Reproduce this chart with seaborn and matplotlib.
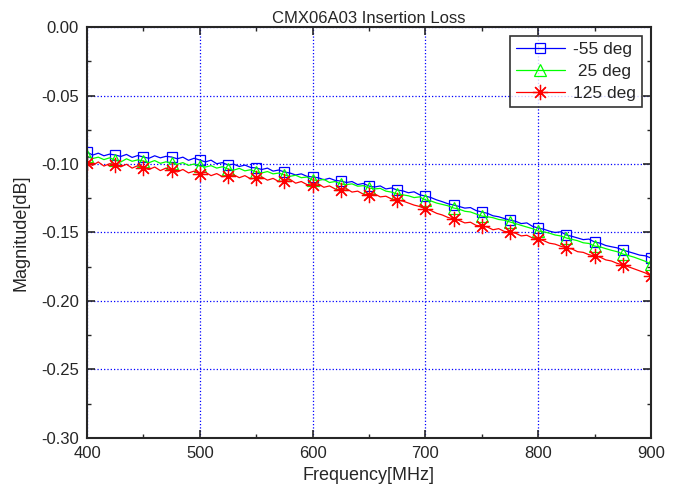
import numpy as np
import pandas as pd
import matplotlib
matplotlib.use("Agg")
import matplotlib.pyplot as plt
from matplotlib.ticker import MultipleLocator, FormatStrFormatter
import seaborn as sns

freq = np.arange(400, 901, 5)

m55 = [-0.0912, -0.0935, -0.0921, -0.0940, -0.0928, -0.0934,
       -0.0945, -0.0930, -0.0952, -0.0938, -0.0949,
       -0.0958, -0.0940, -0.0955, -0.0944, -0.0949,
       -0.0962, -0.0950, -0.0973, -0.0958, -0.0971,
       -0.0985, -0.0972, -0.0998, -0.0990, -0.1007,
       -0.1001, -0.1018, -0.1008, -0.1025, -0.1029,
       -0.1040, -0.1030, -0.1052, -0.1044, -0.1058,
       -0.1066, -0.1080, -0.1072, -0.1090, -0.1095,
       -0.1100, -0.1115, -0.1104, -0.1120, -0.1124,
       -0.1135, -0.1128, -0.1150, -0.1142, -0.1161,
       -0.1168, -0.1160, -0.1182, -0.1175, -0.1190,
       -0.1196, -0.1210, -0.1203, -0.1225, -0.1234,
       -0.1245, -0.1262, -0.1275, -0.1290, -0.1299,
       -0.1310, -0.1322, -0.1318, -0.1340, -0.1350,
       -0.1360, -0.1378, -0.1385, -0.1398, -0.1409,
       -0.1418, -0.1435, -0.1430, -0.1455, -0.1467,
       -0.1476, -0.1490, -0.1500, -0.1495, -0.1518,
       -0.1528, -0.1540, -0.1552, -0.1548, -0.1569,
       -0.1578, -0.1595, -0.1604, -0.1612, -0.1628,
       -0.1640, -0.1652, -0.1665, -0.1670, -0.1686]

p25 = [-0.0942, -0.0960, -0.0950, -0.0968, -0.0955, -0.0971,
       -0.0985, -0.0962, -0.0980, -0.0970, -0.0978,
       -0.0990, -0.0975, -0.0995, -0.0984, -0.0993,
       -0.1002, -0.0990, -0.1010, -0.1000, -0.1015,
       -0.1022, -0.1012, -0.1030, -0.1020, -0.1036,
       -0.1045, -0.1032, -0.1050, -0.1042, -0.1058,
       -0.1065, -0.1055, -0.1072, -0.1066, -0.1080,
       -0.1090, -0.1082, -0.1100, -0.1095, -0.1117,
       -0.1120, -0.1112, -0.1135, -0.1128, -0.1146,
       -0.1150, -0.1145, -0.1162, -0.1158, -0.1175,
       -0.1182, -0.1178, -0.1198, -0.1205, -0.1219,
       -0.1225, -0.1232, -0.1245, -0.1240, -0.1263,
       -0.1270, -0.1285, -0.1295, -0.1305, -0.1321,
       -0.1330, -0.1345, -0.1350, -0.1365, -0.1380,
       -0.1385, -0.1392, -0.1405, -0.1410, -0.1423,
       -0.1435, -0.1448, -0.1460, -0.1472, -0.1489,
       -0.1495, -0.1505, -0.1518, -0.1525, -0.1540,
       -0.1550, -0.1560, -0.1575, -0.1580, -0.1599,
       -0.1605, -0.1618, -0.1630, -0.1640, -0.1657,
       -0.1668, -0.1680, -0.1695, -0.1710, -0.1730]

p125 = [-0.0993, -0.1010, -0.0985, -0.1015, -0.0998, -0.1007,
        -0.1020, -0.1002, -0.1030, -0.1012, -0.1029,
        -0.1040, -0.1022, -0.1048, -0.1030, -0.1044,
        -0.1058, -0.1040, -0.1065, -0.1052, -0.1073,
        -0.1060, -0.1085, -0.1070, -0.1092, -0.1088,
        -0.1078, -0.1100, -0.1085, -0.1108, -0.1102,
        -0.1095, -0.1118, -0.1105, -0.1128, -0.1124,
        -0.1112, -0.1140, -0.1128, -0.1150, -0.1153,
        -0.1145, -0.1170, -0.1160, -0.1182, -0.1190,
        -0.1180, -0.1205, -0.1198, -0.1220, -0.1226,
        -0.1218, -0.1240, -0.1235, -0.1255, -0.1263,
        -0.1270, -0.1285, -0.1300, -0.1310, -0.1328,
        -0.1340, -0.1360, -0.1372, -0.1390, -0.1401,
        -0.1412, -0.1430, -0.1425, -0.1448, -0.1453,
        -0.1460, -0.1480, -0.1472, -0.1492, -0.1496,
        -0.1505, -0.1525, -0.1520, -0.1540, -0.1547,
        -0.1560, -0.1578, -0.1585, -0.1600, -0.1613,
        -0.1620, -0.1640, -0.1645, -0.1662, -0.1672,
        -0.1680, -0.1700, -0.1708, -0.1725, -0.1737,
        -0.1750, -0.1765, -0.1780, -0.1795, -0.1818]

series = [
    ("-55 deg", m55, "#0000ff", "s", "none", 7),
    (" 25 deg", p25, "#00ff00", "^", "none", 9),
    ("125 deg", p125, "#ff0000", (8, 2, 0), "#ff0000", 11),
]

sns.set_style("ticks")
plt.rcParams["font.family"] = ["Liberation Sans", "DejaVu Sans"]

fig = plt.figure(figsize=(6.83, 4.93), dpi=100)
ax = fig.add_axes([0.1274, 0.1116, 0.8256, 0.8336])

for label, vals, col, mk, fc, ms in series:
    df = pd.DataFrame({"freq": freq, "mag": vals})
    sns.lineplot(data=df, x="freq", y="mag", ax=ax, color=col, linewidth=0.9,
                 marker=mk, markevery=5, markersize=ms, markerfacecolor=fc,
                 markeredgecolor=col, markeredgewidth=0.9, label=label)

ax.set_xlim(400, 900)
ax.set_ylim(-0.30, 0.0)
ax.xaxis.set_major_locator(MultipleLocator(100))
ax.xaxis.set_minor_locator(MultipleLocator(50))
ax.yaxis.set_major_locator(MultipleLocator(0.05))
ax.yaxis.set_minor_locator(MultipleLocator(0.025))
ax.yaxis.set_major_formatter(FormatStrFormatter("%.2f"))
ax.tick_params(which="both", direction="in", top=True, right=True, labelsize=12)
ax.tick_params(which="major", length=6, width=1.2)
ax.tick_params(which="minor", length=3, width=1.0)
ax.tick_params(axis="both", pad=6)
for s in ax.spines.values():
    s.set_linewidth(1.5)
ax.grid(True, which="major", color="#0000ff", linestyle=":", linewidth=0.9)

ax.set_title("CMX06A03 Insertion Loss", fontsize=12, pad=3)
ax.set_xlabel("Frequency[MHz]", fontsize=13, labelpad=4)
ax.set_ylabel("Magnitude[dB]", fontsize=13, labelpad=8)

leg = ax.legend(loc="upper right", fontsize=12.5, frameon=True, fancybox=False,
                edgecolor="black", handlelength=2.8, borderaxespad=0.5,
                labelspacing=0.4, handletextpad=0.5, borderpad=0.35)
leg.get_frame().set_linewidth(1.2)

fig.savefig("out.png", dpi=100)
